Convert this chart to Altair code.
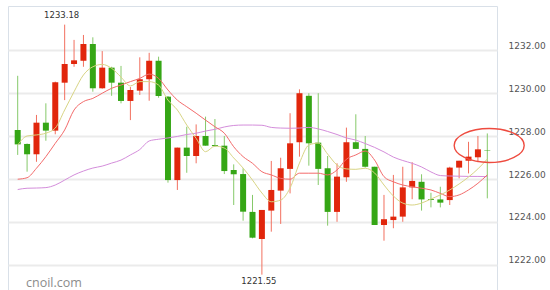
import altair as alt
import pandas as pd

# ---- data ----
opens = [1228.28, 1227.63, 1227.15, 1228.62, 1228.25, 1230.48, 1231.35, 1231.50, 1232.28, 1230.22,
         1231.18, 1230.48, 1229.63, 1230.11, 1230.64, 1231.50, 1229.83, 1225.95, 1227.46, 1227.07,
         1228.00, 1227.58, 1227.55, 1226.42, 1226.23, 1224.47, 1223.21, 1224.53, 1225.46, 1226.47,
         1227.71, 1229.87, 1227.69, 1226.50, 1224.47, 1226.08, 1227.71, 1227.40, 1226.57, 1223.86,
         1224.09, 1224.25, 1225.61, 1225.87, 1225.07, 1225.05, 1225.02, 1226.53, 1226.85, 1227.01,
         1227.33]
highs = [1230.80, 1227.65, 1228.98, 1229.52, 1230.53, 1233.18, 1232.47, 1232.70, 1232.59, 1231.95,
         1231.22, 1231.26, 1230.28, 1231.66, 1231.87, 1231.69, 1229.86, 1227.46, 1228.43, 1228.54,
         1228.90, 1228.79, 1228.00, 1226.68, 1226.50, 1225.26, 1224.56, 1226.84, 1226.99, 1229.06,
         1230.17, 1229.99, 1229.99, 1227.07, 1226.73, 1228.39, 1229.01, 1228.00, 1226.57, 1225.26,
         1226.19, 1226.57, 1226.78, 1226.22, 1225.36, 1225.64, 1226.57, 1226.85, 1227.73, 1228.00,
         1228.12]
lows = [1227.12, 1226.34, 1226.80, 1227.78, 1228.08, 1229.67, 1231.22, 1231.22, 1230.06, 1230.20,
        1229.87, 1229.52, 1228.74, 1229.91, 1229.64, 1229.78, 1225.83, 1225.49, 1226.29, 1226.73,
        1227.55, 1227.50, 1226.23, 1224.79, 1224.06, 1223.24, 1221.55, 1223.55, 1223.91, 1225.33,
        1227.04, 1226.62, 1225.72, 1223.83, 1224.01, 1225.87, 1227.40, 1226.53, 1223.86, 1223.13,
        1223.71, 1224.01, 1225.06, 1224.53, 1224.68, 1224.68, 1224.79, 1226.03, 1226.26, 1226.78,
        1225.10]
closes = [1227.61, 1227.15, 1228.62, 1228.25, 1230.50, 1231.35, 1231.52, 1232.28, 1230.22, 1231.18,
          1230.48, 1229.63, 1230.14, 1230.64, 1231.50, 1229.86, 1225.95, 1227.46, 1227.07, 1228.00,
          1227.55, 1227.53, 1226.37, 1226.22, 1224.48, 1223.27, 1224.56, 1225.49, 1226.50, 1227.66,
          1229.99, 1227.66, 1226.47, 1224.47, 1226.11, 1227.71, 1227.40, 1226.57, 1223.86, 1224.13,
          1224.25, 1225.61, 1225.91, 1225.05, 1225.03, 1224.90, 1226.53, 1226.85, 1227.04, 1227.38,
          1227.31]
ma_short = [1227.58, 1228.00, 1228.05, 1228.13, 1228.37, 1229.21, 1230.06, 1230.84, 1231.22, 1231.33,
            1231.15, 1230.74, 1230.33, 1230.53, 1230.53, 1230.37, 1229.67, 1229.21, 1228.51, 1227.89,
            1227.27, 1227.53, 1227.44, 1226.98, 1226.51, 1225.95, 1225.35, 1224.94, 1225.02, 1225.58,
            1226.74, 1227.58, 1227.67, 1227.16, 1226.65, 1226.47, 1226.45, 1226.50, 1226.28, 1225.72,
            1225.21, 1224.88, 1224.79, 1224.88, 1225.07, 1225.26, 1225.49, 1225.77, 1226.09, 1226.47,
            1226.93]
ma_mid = [1225.99, 1226.06, 1226.50, 1227.04, 1227.66, 1228.28, 1229.21, 1229.60, 1229.75, 1229.99,
          1230.22, 1230.37, 1230.53, 1230.68, 1230.88, 1230.68, 1230.14, 1229.67, 1229.36, 1229.06,
          1228.74, 1228.43, 1228.13, 1227.50, 1227.04, 1226.73, 1226.34, 1226.19, 1226.03, 1225.99,
          1226.27, 1226.27, 1226.27, 1226.19, 1226.42, 1226.92, 1227.12, 1227.30, 1226.88, 1226.11,
          1225.87, 1225.72, 1225.64, 1225.57, 1225.49, 1225.33, 1225.18, 1225.26, 1225.49, 1225.80,
          1226.19]
ma_long = [1225.51, 1225.57, 1225.58, 1225.60, 1225.72, 1225.95, 1226.19, 1226.37, 1226.51, 1226.60,
           1226.74, 1226.88, 1227.12, 1227.37, 1227.77, 1227.85, 1227.91, 1227.98, 1228.07, 1228.13,
           1228.23, 1228.31, 1228.42, 1228.49, 1228.51, 1228.51, 1228.50, 1228.40, 1228.37, 1228.36,
           1228.37, 1228.40, 1228.33, 1228.21, 1228.07, 1227.91, 1227.81, 1227.65, 1227.47, 1227.26,
           1227.02, 1226.86, 1226.73, 1226.56, 1226.33, 1226.16, 1226.14, 1226.13, 1226.12, 1226.12,
           1226.11]
y_ticks = [1222, 1224, 1226, 1228, 1230, 1232]
watermark = ["cnoil.com"]
highlight_i = [51.2]
highlight_y = [1227.56]

RED, GREEN = "#e1260c", "#35a615"
RED_WICK, GREEN_WICK = "#f2705f", "#86c96a"

n = len(opens)
df = pd.DataFrame({"i": list(range(1, n + 1)), "open": opens, "high": highs,
                   "low": lows, "close": closes,
                   "ma_short": ma_short, "ma_mid": ma_mid, "ma_long": ma_long})

xs = alt.Scale(domain=[0.5, n + 0.5], nice=False, zero=False)
ys = alt.Scale(domain=[1220.837, 1234.047], nice=False, zero=False)
X = alt.X("i:Q", scale=xs, axis=None)

YAX = alt.Axis(orient="right", values=y_ticks, format=".2f", grid=True,
               gridColor="#ebebeb", gridWidth=2, ticks=False, domain=False,
               labelPadding=11, labelFont="DejaVu Sans", labelFontSize=9,
               labelColor="#555555", labelBaseline="alphabetic", labelOffset=-2)


def Y(field):
    return alt.Y(f"{field}:Q", scale=ys, title=None, axis=YAX)


up = "datum.close >= datum.open"

wicks = alt.Chart(df).mark_rule(strokeWidth=1).encode(
    x=X, y=Y("low"), y2="high:Q",
    color=alt.condition(up, alt.value(RED_WICK), alt.value(GREEN_WICK)),
)

bodies = alt.Chart(df).mark_bar(size=6).encode(
    x=X, y=Y("open"), y2="close:Q",
    color=alt.condition(up, alt.value(RED), alt.value(GREEN)),
)


def ma_line(field, col):
    return alt.Chart(df).mark_line(strokeWidth=1, interpolate="monotone", color=col).encode(
        x=X, y=Y(field))


l1 = ma_line("ma_long", "#d48ddb")
l2 = ma_line("ma_mid", "#f36b6b")
l3 = ma_line("ma_short", "#d8d484")

imax = highs.index(max(highs))
imin = lows.index(min(lows))
hi_lab = alt.Chart(pd.DataFrame({"i": [imax + 1], "v": [highs[imax]]})).mark_text(
    font="DejaVu Sans", fontSize=8.5, color="#333333", baseline="middle", dx=-3, dy=-10
).encode(x=X, y=Y("v"), text=alt.Text("v:Q", format=".2f"))
lo_lab = alt.Chart(pd.DataFrame({"i": [imin + 1], "v": [lows[imin]]})).mark_text(
    font="DejaVu Sans", fontSize=8.5, color="#333333", baseline="middle", dx=-3, dy=6
).encode(x=X, y=Y("v"), text=alt.Text("v:Q", format=".2f"))

ell = alt.Chart(pd.DataFrame({"i": highlight_i, "v": highlight_y})).mark_point(
    shape="M -1 0 A 1 0.486 0 1 0 1 0 A 1 0.486 0 1 0 -1 0",
    size=4900, filled=False, stroke="#ee4b3f", strokeWidth=1.4, opacity=1
).encode(x=X, y=Y("v"))

wm = alt.Chart(pd.DataFrame({"t": watermark})).mark_text(
    font="Open Sans", fontSize=12.5, color="#8c8c8c", align="left", baseline="alphabetic"
).encode(x=alt.value(18), y=alt.value(281), text="t:N")

chart = alt.layer(wicks, bodies, l1, l2, l3, hi_lab, lo_lab, ell, wm).properties(
    width=489, height=284,
    padding={"left": 8, "top": 6, "right": 53, "bottom": 0},
    autosize=alt.AutoSizeParams(type="none"),
).configure_view(stroke="#d9e0e8", strokeWidth=1)

chart.save("out.html", embed_options={"renderer": "svg", "actions": False})
